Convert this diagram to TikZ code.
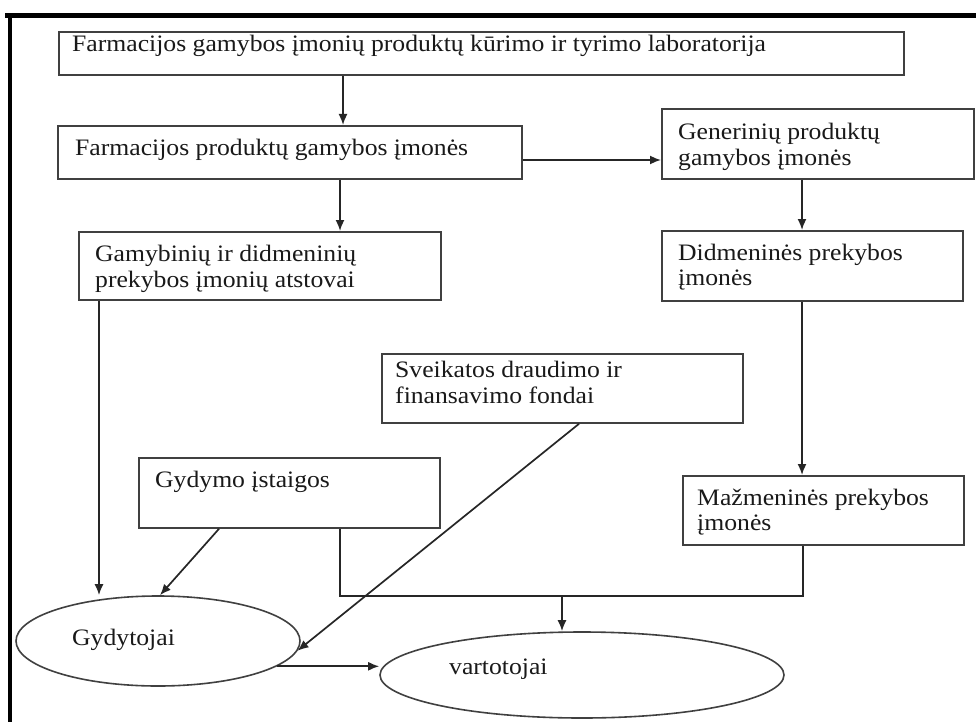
\documentclass[tikz,border=0pt]{standalone}
\usepackage{fontspec}
\setmainfont{Liberation Serif}
\usetikzlibrary{arrows.meta,shapes.geometric}

\tikzset{
  frameline/.style={fill=black, draw=none},
  boxst/.style={draw=black!75, line width=1.8pt, rectangle, inner sep=0pt, anchor=north west},
  ovalst/.style={draw=black!75, line width=1.6pt, ellipse, inner sep=0pt},
  txt/.style={anchor=base west, inner sep=0pt, text=black!90,
              font=\fontsize{26.2}{26}\selectfont},
  conn/.style={draw=black!85, line width=1.7pt},
  arr/.style={conn, -{Latex[length=11pt,width=9pt]}},
}

% a box given by its top-left corner, width and height (pixel units)
\newcommand\boxat[5]{\node[boxst, minimum width=#4pt, minimum height=#5pt] (#1) at (#2,#3) {};}
% one line of text, left end of its baseline at the given point
\newcommand\lineat[4]{\node[txt] (#1) at (#2,#3) {\scalebox{0.98}[0.9]{#4}};}

\begin{document}
\begin{tikzpicture}[x=1pt,y=-1pt]
  \useasboundingbox (0,0) rectangle (976,722);
  \fill[white] (0,0) rectangle (976,722);

  % heavy frame on the top and left edges
  \fill[frameline] (5,13) rectangle (976,18);
  \fill[frameline] (8,13) rectangle (12,722);

  % boxes
  \boxat{lab}{58}{31}{845}{43}
  \boxat{farm}{57}{125}{464}{53}
  \boxat{gen}{661}{108}{312}{70}
  \boxat{atst}{78}{231}{362}{68}
  \boxat{didm}{661}{230}{301}{70}
  \boxat{fond}{381}{353}{361}{69}
  \boxat{gyd}{138}{457}{301}{70}
  \boxat{mazm}{682}{475}{281}{69}

  % ovals
  \node[ovalst, minimum width=284pt, minimum height=90pt] (doc) at (158,641) {};
  \node[ovalst, minimum width=404pt, minimum height=86pt] (cons) at (582,675) {};

  % texts
  \lineat{tlab}{72}{52}{Farmacijos gamybos įmonių produktų kūrimo ir tyrimo laboratorija}
  \lineat{tfarm}{75}{156}{Farmacijos produktų gamybos įmonės}
  \lineat{tgena}{678}{140}{Generinių produktų}
  \lineat{tgenb}{678}{165}{gamybos įmonės}
  \lineat{tatsa}{95}{261}{Gamybinių ir didmeninių}
  \lineat{tatsb}{95}{287}{prekybos įmonių atstovai}
  \lineat{tdida}{678}{260}{Didmeninės prekybos}
  \lineat{tdidb}{678}{285}{įmonės}
  \lineat{tfona}{395}{377}{Sveikatos draudimo ir}
  \lineat{tfonb}{395}{403}{finansavimo fondai}
  \lineat{tgyd}{155}{487}{Gydymo įstaigos}
  \lineat{tmaza}{697}{505}{Mažmeninės prekybos}
  \lineat{tmazb}{697}{530}{įmonės}
  \lineat{tdoc}{72}{645}{Gydytojai}
  \lineat{tcons}{449}{674}{vartotojai}

  % connectors
  \draw[arr] ([xshift=285pt]lab.south west) -- ([xshift=286pt]farm.north west);
  \draw[arr] ([yshift=-35pt]farm.north east) -- ([yshift=-52pt]gen.north west);
  \draw[arr] ([xshift=283pt]farm.south west) -- ([xshift=262pt]atst.north west);
  \draw[arr] ([xshift=141pt]gen.south west) -- ([xshift=141pt]didm.north west);
  \draw[arr] ([xshift=141pt]didm.south west) -- ([xshift=120pt]mazm.north west);

  \coordinate (atstfoot) at ([xshift=21pt]atst.south west);
  \draw[arr] (atstfoot) -- (atstfoot |- doc.north);

  \draw[arr] ([xshift=81pt]gyd.south west) -- ([xshift=2pt]doc.north);

  \coordinate (merge) at (562,596);
  \draw[conn] ([xshift=202pt]gyd.south west) |- (merge) -| ([xshift=121pt]mazm.south west);
  \draw[arr] (merge) -- (merge |- cons.north);

  \draw[arr] ([xshift=198pt]fond.south west) -- (doc.-4);

  \draw[arr] (doc.-12) -- (doc.-12 -| cons.west);
\end{tikzpicture}
\end{document}
